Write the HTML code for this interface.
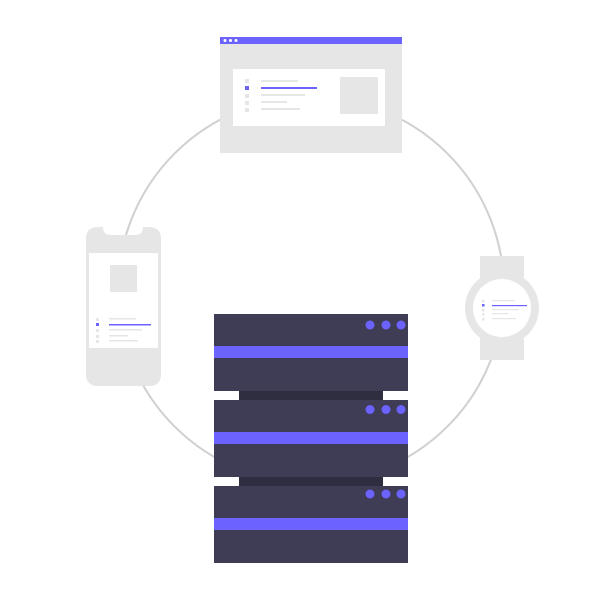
<!DOCTYPE html>
<html><head><style>html,body{margin:0;padding:0;background:#fff;}svg{display:block}</style></head>
<body>
<svg width="600" height="600" viewBox="0 0 600 600" xmlns="http://www.w3.org/2000/svg">
<circle cx="311" cy="290" r="193" fill="none" stroke="#d0d0d0" stroke-width="2"/>
<!-- browser -->
<rect x="220" y="37" width="182" height="116" fill="#e6e6e6"/>
<rect x="220" y="37" width="182" height="7" fill="#6c63ff"/>
<circle cx="225" cy="40.5" r="1.5" fill="#fff"/><circle cx="230.5" cy="40.5" r="1.5" fill="#fff"/><circle cx="236" cy="40.5" r="1.5" fill="#fff"/>
<rect x="233" y="69" width="152" height="57" fill="#fff"/>
<rect x="340" y="77" width="38" height="37" fill="#e6e6e6"/>
<g fill="#e6e6e6"><rect x="245" y="79" width="4" height="4"/><rect x="245" y="94" width="4" height="4"/><rect x="245" y="101" width="4" height="4"/><rect x="245" y="108" width="4" height="4"/>
<rect x="261" y="80" width="37" height="2"/><rect x="261" y="94" width="44" height="2"/><rect x="261" y="101" width="26" height="2"/><rect x="261" y="108" width="39" height="2"/></g>
<rect x="245" y="86" width="4" height="4" fill="#6c63ff"/><rect x="261" y="87" width="56" height="2" fill="#6c63ff"/>
<!-- phone -->
<path d="M98 227 H103 Q103 235 111 235 H135 Q143 235 143 227 H149 Q161 227 161 239 V374 Q161 386 149 386 H98 Q86 386 86 374 V239 Q86 227 98 227 Z" fill="#e6e6e6"/>
<rect x="89" y="253" width="69" height="95" fill="#fff"/>
<rect x="110" y="265" width="27" height="27" fill="#e6e6e6"/>
<g fill="#e6e6e6"><rect x="96" y="318" width="3" height="3"/><rect x="96" y="329" width="3" height="3"/><rect x="96" y="335" width="3" height="3"/><rect x="96" y="340" width="3" height="3"/>
<rect x="109" y="318" width="27" height="1.5"/><rect x="109" y="329" width="33" height="1.5"/><rect x="109" y="335" width="19" height="1.5"/><rect x="109" y="340" width="29" height="1.5"/></g>
<rect x="96" y="323" width="3" height="3" fill="#6c63ff"/><rect x="109" y="324" width="42" height="1.5" fill="#6c63ff"/>
<!-- watch -->
<rect x="480" y="256" width="44" height="104" fill="#e6e6e6"/>
<circle cx="502" cy="308" r="37" fill="#e6e6e6"/>
<circle cx="502" cy="308" r="29" fill="#fff"/>
<g fill="#e6e6e6"><rect x="482" y="300" width="2.5" height="2.5"/><rect x="482" y="309" width="2.5" height="2.5"/><rect x="482" y="313" width="2.5" height="2.5"/><rect x="482" y="318" width="2.5" height="2.5"/>
<rect x="492" y="300" width="23" height="1.2"/><rect x="492" y="309" width="27" height="1.2"/><rect x="492" y="313" width="16" height="1.2"/><rect x="492" y="318" width="24" height="1.2"/></g>
<rect x="482" y="304" width="2.5" height="2.5" fill="#6c63ff"/><rect x="492" y="305" width="35" height="1.2" fill="#6c63ff"/>
<!-- server -->
<rect x="239" y="391" width="144" height="9" fill="#2f2e41"/>
<rect x="239" y="477" width="144" height="9" fill="#2f2e41"/>
<g fill="#3f3d56"><rect x="214" y="314" width="194" height="77"/><rect x="214" y="400" width="194" height="77"/><rect x="214" y="486" width="194" height="77"/></g>
<g fill="#6c63ff">
<rect x="214" y="346" width="194" height="12"/><rect x="214" y="432" width="194" height="12"/><rect x="214" y="518" width="194" height="12"/>
<circle cx="370" cy="325" r="4.5"/><circle cx="386" cy="325" r="4.5"/><circle cx="401" cy="325" r="4.5"/>
<circle cx="370" cy="409.5" r="4.5"/><circle cx="386" cy="409.5" r="4.5"/><circle cx="401" cy="409.5" r="4.5"/>
<circle cx="370" cy="494" r="4.5"/><circle cx="386" cy="494" r="4.5"/><circle cx="401" cy="494" r="4.5"/>
</g>
</svg>
</body></html>
